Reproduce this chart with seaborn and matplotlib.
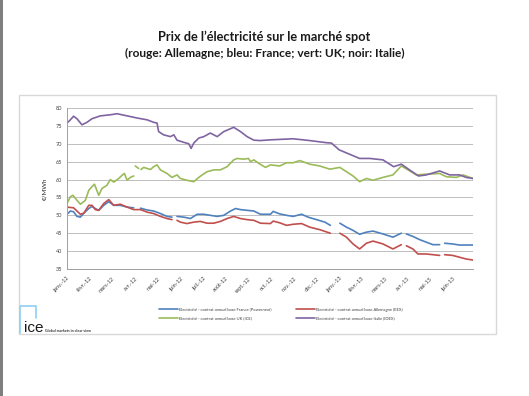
import numpy as np
import pandas as pd
import seaborn as sns
import matplotlib.pyplot as plt
from matplotlib.lines import Line2D
from matplotlib.patches import Rectangle

# month offsets from janv.-12 and prices (EUR/MWh); None marks a gap in the line
fra_m = [0, 0.15, 0.29, 0.44, 0.59, 0.74, 0.96, 1.1, 1.25, 1.4, 1.62, 1.84, 2.06, 2.35, 2.65, 2.94, None,
         3.24, 3.53, 3.82, 4.12, 4.41, 4.63, None,
         4.85, 5.15, 5.44, 5.74, 6.03, 6.32, 6.62, 6.91, 7.21, 7.43, 7.65, 7.94, 8.24, 8.53, 8.97, 9.09, 9.38,
         9.68, 9.97, 10.34, 10.63, 11.0, 11.37, 11.61, None,
         12.03, 12.32, 12.61, 12.9, 13.2, 13.49, 13.93, 14.37, 14.74, None,
         14.96, 15.25, 15.55, 15.84, 16.13, 16.43, None,
         16.65, 17.0, 17.3, 17.9]
fra_v = [50.3, 51.2, 51.0, 49.7, 49.5, 50.6, 51.9, 52.5, 51.9, 51.4, 52.8, 53.8, 52.8, 52.8, 52.3, 52.1, None,
         52.0, 51.5, 51.2, 50.5, 49.7, 49.5, None,
         49.7, 49.5, 49.1, 50.3, 50.3, 50.0, 49.7, 50.0, 51.2, 51.9, 51.6, 51.4, 51.2, 50.3, 50.3, 51.1, 50.4,
         50.0, 49.7, 50.3, 49.5, 48.8, 48.1, 47.2, None,
         47.8, 46.7, 45.8, 44.7, 45.3, 45.6, 44.8, 43.9, 45.0, None,
         44.8, 44.1, 43.2, 42.5, 41.8, 41.8, None,
         42.2, 42.0, 41.7, 41.7]

deu_m = [0, 0.29, 0.44, 0.59, 0.74, 0.96, 1.1, 1.25, 1.4, 1.62, 1.84, 2.06, 2.35, 2.65, 2.94, 3.24, 3.53,
         3.82, 4.12, 4.41, 4.63, None,
         4.85, 5.0, 5.29, 5.59, 5.88, 6.18, 6.47, 6.76, 7.06, 7.35, 7.65, 7.94, 8.24, 8.53, 8.97, 9.09, 9.38,
         9.68, 9.97, 10.34, 10.7, 11.14, 11.61, None,
         12.03, 12.32, 12.61, 12.9, 13.2, 13.49, 13.93, 14.37, 14.74, None,
         14.96, 15.25, 15.47, 15.84, 16.43, None,
         16.65, 17.0, 17.3, 17.6, 17.9]
deu_v = [52.3, 52.1, 51.2, 50.3, 50.6, 52.8, 52.8, 51.6, 51.4, 53.3, 54.4, 52.8, 53.1, 52.3, 51.6, 51.6, 50.9,
         50.5, 49.7, 49.1, 48.8, None,
         48.6, 48.1, 47.7, 48.1, 48.3, 47.8, 47.8, 48.3, 49.1, 49.7, 49.1, 48.8, 48.6, 47.8, 47.7, 48.4, 47.9,
         47.2, 47.5, 47.7, 46.7, 46.0, 45.0, None,
         45.0, 43.9, 42.0, 40.6, 42.2, 42.8, 42.0, 40.6, 41.8, None,
         41.5, 40.6, 39.2, 39.2, 38.8, None,
         39.0, 38.8, 38.3, 37.8, 37.5]

uk_m = [0, 0.15, 0.26, 0.44, 0.59, 0.81, 0.96, 1.1, 1.21, 1.4, 1.54, 1.76, 1.91, 2.06, 2.28, 2.43, 2.53,
        2.65, 2.79, 2.94, None,
        3.01, 3.16, None,
        3.26, 3.38, 3.68, 3.82, 3.97, 4.12, 4.41, 4.63, 4.85, 5.0, 5.29, 5.59, 5.81, 5.96, 6.18, 6.47, 6.76,
        7.06, 7.35, 7.5, 7.79, 8.0, 8.09, 8.24, 8.46, 8.75, 8.97, 9.38, 9.68, 9.97, 10.26, 10.7, 11.14, 11.59,
        12.03, 12.32, 12.61, 12.9, 13.2, 13.49, 13.93, 14.37, 14.74, 15.04, 15.4, 15.84, 16.43, 16.72, 17.16,
        17.46, 17.9]
uk_v = [53.3, 55.2, 55.6, 54.2, 53.1, 54.2, 57.0, 58.0, 58.7, 55.6, 57.5, 58.4, 60.0, 59.3, 60.3, 61.2, 61.7,
        59.8, 60.6, 61.0, None,
        63.8, 63.1, None,
        62.8, 63.4, 62.8, 63.6, 64.1, 62.7, 61.7, 60.6, 61.3, 60.3, 59.8, 59.4, 60.6, 61.3, 62.2, 62.7, 62.7,
        63.6, 65.5, 65.9, 65.7, 65.9, 65.0, 65.5, 64.5, 63.4, 64.1, 63.8, 64.7, 64.7, 65.3, 64.3, 63.8, 62.9,
        63.4, 62.2, 61.0, 59.4, 60.3, 59.8, 60.6, 61.3, 63.8, 62.7, 61.3, 61.5, 61.7, 60.8, 60.6,
        61.3, 60.3]

ita_m = [0, 0.12, 0.29, 0.44, 0.66, 0.88, 1.1, 1.47, 1.91, 2.21, 2.65, 3.09, 3.53, 3.82, 3.97, 4.04, 4.26,
         4.56, 4.71, 4.85, 5.15, 5.37, 5.47, 5.59, 5.81, 6.03, 6.32, 6.62, 6.91, 7.35, 7.65, 7.94, 8.24, 8.53,
         8.97, 9.97, 10.7, 11.44, 11.66, 12.0, 12.3, 12.9, 13.35, 13.93, 14.4, 14.74, 15.1, 15.5, 15.84, 16.43,
         16.87, 17.3, 17.6, 17.9]
ita_v = [75.8, 76.5, 77.7, 77.0, 75.3, 76.0, 77.0, 77.8, 78.1, 78.4, 77.8, 77.2, 76.7, 76.0, 75.8, 73.4, 72.5,
         72.0, 72.5, 71.0, 70.4, 70.0, 68.7, 70.2, 71.6, 72.0, 73.0, 72.0, 73.4, 74.6, 73.4, 72.0, 71.0, 70.9,
         71.1, 71.4, 70.9, 70.3, 70.2, 68.3, 67.5, 65.9, 65.9, 65.5, 63.6, 64.3, 62.7, 61.0, 61.3, 62.4,
         61.3, 61.3, 60.6, 60.3]

month_labels = ["janv.-12", "févr.-12", "mars-12", "avr.-12", "mai-12", "juin-12", "juil.-12", "août-12",
                "sept.-12", "oct.-12", "nov.-12", "déc.-12", "janv.-13", "févr.-13", "mars-13", "avr.-13",
                "mai-13", "juin-13"]

names = {
    "fra": "Electricité - contrat annuel base France (Powernext)",
    "deu": "Electricité - contrat annuel base Allemagne (EEX)",
    "uk": "Electricité - contrat annuel base UK (ICE)",
    "ita": "Electricité - contrat annuel base Italie (IDEX)",
}
colors = {"fra": "#4F81BD", "deu": "#C0504D", "uk": "#9BBB59", "ita": "#8064A2"}


def to_frame(key, ms, vs):
    rows, seg = [], 0
    for m, v in zip(ms, vs):
        if m is None:
            seg += 1
            continue
        rows.append((key, seg, m, v))
    return pd.DataFrame(rows, columns=["serie", "seg", "mois", "prix"])


df = pd.concat([to_frame("fra", fra_m, fra_v), to_frame("deu", deu_m, deu_v),
                to_frame("uk", uk_m, uk_v), to_frame("ita", ita_m, ita_v)], ignore_index=True)

sns.set_style("white")
plt.rcParams["font.family"] = ["Lato", "DejaVu Sans"]

fig = plt.figure(figsize=(5.29, 3.96), dpi=100)
W, H = 529, 396

# page border + chart frame
fig.add_artist(Rectangle((0, 0), 2.5 / W, 1, transform=fig.transFigure, color="#7f7f7f", lw=0))
fig.add_artist(Rectangle((19 / W, 1 - 334 / H), (496 - 19) / W, (334 - 95) / H, transform=fig.transFigure,
                         fill=False, ec="#d9d9d9", lw=1.0))

fig.text(0.5, 1 - 37 / H, "Prix de l’électricité sur le marché spot", ha="center", va="center",
         fontsize=9.2, fontweight="bold", color="#1a1a1a")
fig.text(0.5, 1 - 53 / H, "(rouge: Allemagne; bleu: France; vert: UK; noir: Italie)", ha="center",
         va="center", fontsize=8.6, fontweight="bold", color="#1a1a1a")

ax = fig.add_axes([67 / W, 1 - 269 / H, (473 - 67) / W, (269 - 108) / H])
sns.lineplot(data=df, x="mois", y="prix", hue="serie", units="seg", estimator=None, palette=colors,
             linewidth=1.2, legend=False, ax=ax, sort=False)

ax.set_xlim(0, 17.9)
ax.set_ylim(35, 80)
ax.set_yticks(np.arange(35, 81, 5))
ax.set_xticks(range(len(month_labels)))
ax.set_xticklabels(month_labels, rotation=45, ha="right", rotation_mode="anchor")
ax.tick_params(axis="both", labelsize=4, colors="#404040", length=2, width=0.5, pad=1.5)
ax.tick_params(axis="x", pad=3)
ax.yaxis.grid(True, color="#bfbfbf", lw=0.7)
for s in ["top", "right"]:
    ax.spines[s].set_visible(False)
for s in ["left", "bottom"]:
    ax.spines[s].set_color("#a0a0a0")
    ax.spines[s].set_linewidth(0.7)
ax.set_xlabel("")
ax.set_ylabel("€/MWh", fontsize=4.5, color="#262626", labelpad=6)

handles = [Line2D([], [], color=colors[k], lw=1.2) for k in ["fra", "uk", "deu", "ita"]]
labels = [names[k] for k in ["fra", "uk", "deu", "ita"]]
fig.legend(handles, labels, loc="center", bbox_to_anchor=(281 / W, 1 - 314 / H), ncol=2, frameon=False,
           fontsize=3.0, handlelength=4.5, columnspacing=6, handletextpad=0.3, labelspacing=1.2,
           labelcolor="#404040")

# ICE logo
fig.add_artist(Line2D([20 / W, 20 / W, 36 / W, 36 / W], [1 - 333 / H, 1 - 306 / H, 1 - 306 / H, 1 - 318 / H],
                      transform=fig.transFigure, color="#8fd0f0", lw=1.2))
fig.text(24 / W, 1 - 328 / H, "ice", fontsize=11, color="#1a1a1a", va="center", ha="left",
         fontfamily="Liberation Sans")
fig.text(45 / W, 1 - 331 / H, "Global markets in clear view", fontsize=2.6, color="#333333", va="center",
         ha="left", fontweight="bold")

fig.savefig("out.png", dpi=100)
